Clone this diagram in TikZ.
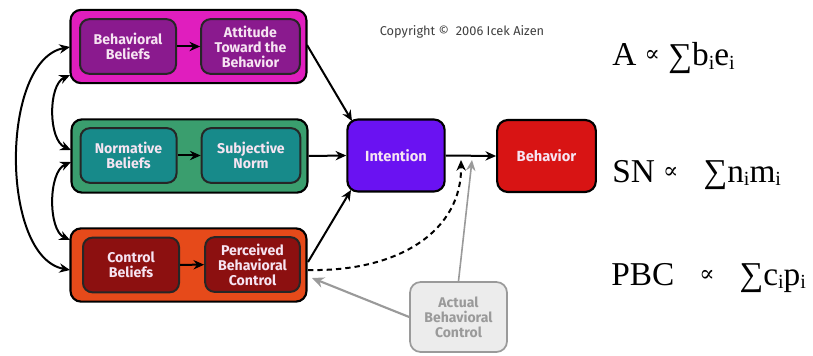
\documentclass[tikz,border=0pt]{standalone}
\usepackage{fontspec}
\setmainfont{Fira Sans}
\newfontfamily\formfont{Liberation Serif}
\newfontfamily\symfont{DejaVu Serif}
\usetikzlibrary{arrows.meta}
\definecolor{magout}{HTML}{E01EBE}
\definecolor{maginn}{HTML}{8A1A8E}
\definecolor{grnout}{HTML}{3A9E6E}
\definecolor{grninn}{HTML}{178A8A}
\definecolor{redout}{HTML}{E64A1A}
\definecolor{redinn}{HTML}{8C1010}
\definecolor{intcol}{HTML}{6A12F2}
\definecolor{behcol}{HTML}{D81414}
\definecolor{actfill}{HTML}{ECECEC}
\definecolor{actdraw}{HTML}{9A9A9A}
\definecolor{boxtext}{HTML}{F6E4F2}
\tikzset{
  outerbox/.style={draw=black, line width=1.6pt, rounded corners=8pt, minimum width=177pt, minimum height=55pt},
  innerbox/.style={draw=black!85, line width=1.5pt, rounded corners=7pt, minimum width=72pt, minimum height=41pt,
     text=boxtext, font=\bfseries\fontsize{10.6}{11.2}\selectfont, align=center, inner sep=0pt},
  bigbox/.style={draw=black, line width=1.6pt, rounded corners=8pt, minimum width=73pt, minimum height=54pt,
     font=\bfseries\fontsize{11}{12}\selectfont, align=center},
  arr/.style={line width=1.5pt, -{Stealth[length=8pt,width=7pt]}},
  darr/.style={line width=1.5pt, {Stealth[length=8pt,width=7pt]}-{Stealth[length=8pt,width=7pt]}},
  formula/.style={anchor=base west, font=\formfont\fontsize{25}{25}\selectfont, inner sep=0pt},
}
\newcommand{\prop}{{\symfont\fontsize{17}{17}\selectfont\raisebox{3pt}{∝}}}
\newcommand{\isub}{\raisebox{-2.5pt}{\fontsize{15}{15}\selectfont i}}
\newcommand{\bigsum}{\raisebox{-0.5pt}{∑}}
\begin{document}
\begin{tikzpicture}[x=0.75pt,y=-0.75pt]
\useasboundingbox (0,0) rectangle (813,356);
% outer boxes
\node[outerbox, fill=magout] (top) at (188.5,46.5) {};
\node[outerbox, fill=grnout] (mid) at (189.5,156) {};
\node[outerbox, fill=redout] (bot) at (188.5,265) {};
% inner boxes
\node[innerbox, fill=maginn] (bb) at (128,46.5) {Behavioral\\Beliefs};
\node[innerbox, fill=maginn, minimum width=74pt] (att) at (250.5,46.5) {Attitude\\Toward the\\Behavior};
\node[innerbox, fill=grninn] (nb) at (128.5,155.5) {Normative\\Beliefs};
\node[innerbox, fill=grninn, minimum width=74pt] (sn) at (251,155.5) {Subjective\\Norm};
\node[innerbox, fill=redinn] (cb) at (131,265) {Control\\Beliefs};
\node[innerbox, fill=redinn, minimum width=71pt] (pbc) at (252.5,264.5) {Perceived\\Behavioral\\Control};
\draw[arr] (bb) -- (att);
\draw[arr] (nb) -- (sn);
\draw[arr] (cb) -- (pbc);
% intention and behaviour
\node[bigbox, fill=intcol, text=boxtext] (int) at (396,155.5) {Intention};
\node[bigbox, fill=behcol, text=boxtext, minimum width=74pt] (beh) at (546.5,156) {Behavior};
\node[draw=actdraw, fill=actfill, line width=1.3pt, rounded corners=8pt, minimum width=72.75pt, minimum height=52.5pt,
      text=actdraw, font=\bfseries\fontsize{10.5}{11.2}\selectfont, align=center, inner sep=0pt] (act) at (458.5,317) {Actual\\Behavioral\\Control};
% copyright
\node[font=\fontsize{9.6}{10}\selectfont, text=black!75] (copy) at (462,32) {Copyright ©\ \ 2006 Icek Aizen};
% coordinates
\coordinate (topr) at (307,45);
\coordinate (intt) at (352,121);
\coordinate (botr) at (308,262);
\coordinate (intb) at (351,190);
\coordinate (j1) at (461,160);
\coordinate (j2) at (472,160);
\coordinate (pbcin) at (312,278);
\coordinate (bots) at (308,270);
% arrows to intention
\draw[arr] (topr) -- (intt);
\draw[arr] (mid.east) -- (int.west);
\draw[arr] (botr) -- (intb);
\draw[arr] (int.east) -- (beh.west);
% dashed
\draw[line width=1.5pt, dashed, dash pattern=on 4pt off 3pt, -{Stealth[length=8pt,width=7pt]}] (bots) .. controls (400,272) and (462,230) .. (j1);
% gray
\draw[line width=1.2pt, actdraw, -{Stealth[length=8pt,width=7pt]}] (act.north) -- (j2);
\draw[line width=1.6pt, actdraw, -{Stealth[length=9pt,width=8pt]}] (act.west) -- (pbcin);
% left curves
\coordinate (tl1) at (70,47);
\coordinate (bl1) at (70,270);
\coordinate (tl2) at (70,75);
\coordinate (ml1) at (71,150);
\coordinate (ml2) at (71,162);
\coordinate (bl2) at (70,240);
\draw[darr] (tl1) .. controls (0,60) and (0,257) .. (bl1);
\draw[darr] (tl2) .. controls (48,85) and (48,140) .. (ml1);
\draw[darr] (ml2) .. controls (48,172) and (48,230) .. (bl2);
% formulas
\node[formula] (fa) at (612,66) {A \prop\ \bigsum b\isub e\isub};
\node[formula] (fsn) at (612,182) {SN \prop\ \ \ \bigsum n\isub m\isub};
\node[formula] (fpbc) at (611,285) {PBC \ \ \prop\ \ \ \bigsum c\isub p\isub};
\end{tikzpicture}
\end{document}
